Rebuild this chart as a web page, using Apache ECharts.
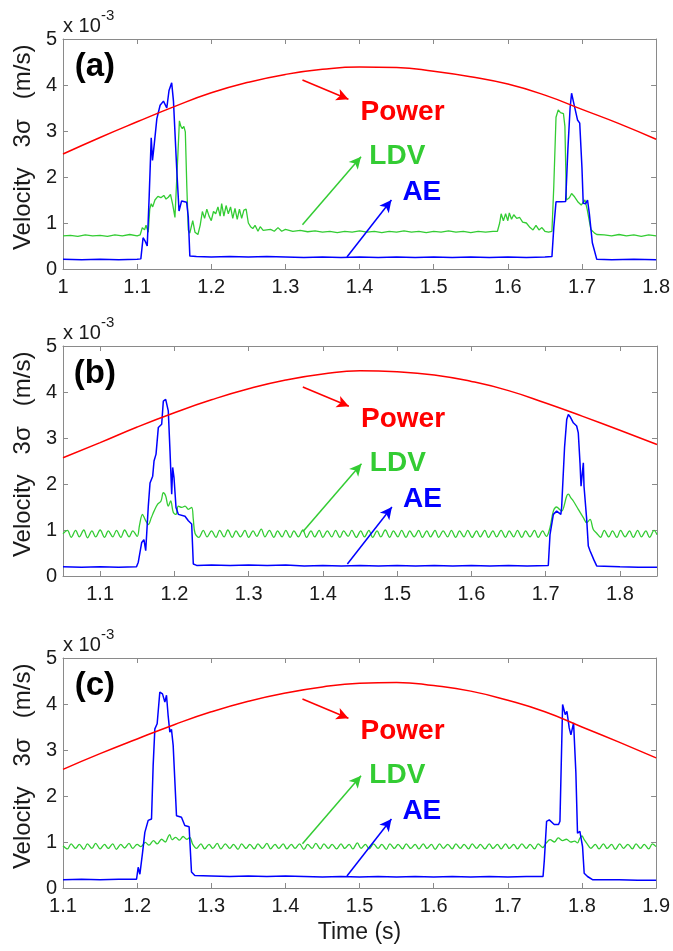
<!DOCTYPE html>
<html><head><meta charset="utf-8">
<script src="https://cdn.jsdelivr.net/npm/echarts@6/dist/echarts.min.js"></script>
<style>html,body{margin:0;padding:0;background:#fff;}#c{width:673px;height:951px;}</style>
</head><body><div id="c"></div>
<script>
// ---------------- DATA ----------------
const panelTags = ['(a)', '(b)', '(c)'];
const xRanges = [[1.0, 1.8], [1.05, 1.85], [1.1, 1.9]];
const yTicks = [0, 1, 2, 3, 4, 5];

const powerA = [[1.00,2.50],[1.05,2.86],[1.10,3.20],[1.15,3.53],[1.20,3.83],[1.25,4.06],[1.30,4.23],[1.35,4.34],[1.40,4.39],[1.45,4.38],[1.50,4.30],[1.55,4.18],[1.60,4.02],[1.65,3.78],[1.70,3.47],[1.75,3.16],[1.80,2.82]];
const powerB = [[1.05,2.57],[1.10,2.90],[1.15,3.24],[1.20,3.55],[1.25,3.83],[1.30,4.07],[1.35,4.26],[1.40,4.39],[1.45,4.46],[1.50,4.44],[1.55,4.37],[1.60,4.23],[1.65,4.03],[1.70,3.76],[1.75,3.47],[1.80,3.17],[1.85,2.86]];
const powerC = [[1.10,2.58],[1.15,2.92],[1.20,3.24],[1.25,3.55],[1.30,3.83],[1.35,4.06],[1.40,4.24],[1.45,4.37],[1.50,4.45],[1.55,4.47],[1.60,4.40],[1.65,4.28],[1.70,4.08],[1.75,3.83],[1.80,3.50],[1.85,3.17],[1.90,2.83]];

const aeA = [[1.00,0.21],[1.025,0.20],[1.05,0.21],[1.075,0.20],[1.10,0.21],[1.105,0.22],[1.108,0.68],[1.111,0.60],[1.1136,0.50],[1.1163,1.60],[1.119,2.85],[1.1207,2.36],[1.123,2.70],[1.1266,3.27],[1.131,3.56],[1.1355,3.65],[1.14,3.50],[1.143,3.88],[1.1466,4.05],[1.149,3.65],[1.1533,2.20],[1.1565,1.26],[1.16,1.48],[1.1668,1.45],[1.169,1.13],[1.1711,0.28],[1.18,0.27],[1.20,0.26],[1.225,0.27],[1.25,0.26],[1.275,0.27],[1.30,0.26],[1.325,0.25],[1.35,0.26],[1.375,0.25],[1.40,0.26],[1.425,0.25],[1.45,0.26],[1.475,0.25],[1.50,0.26],[1.525,0.25],[1.55,0.26],[1.575,0.25],[1.60,0.26],[1.625,0.25],[1.65,0.26],[1.6595,0.27],[1.662,0.90],[1.665,1.46],[1.672,1.46],[1.678,1.47],[1.681,2.60],[1.684,3.50],[1.686,3.82],[1.689,3.60],[1.694,3.24],[1.697,3.17],[1.700,2.20],[1.7017,1.43],[1.705,1.42],[1.7075,1.50],[1.710,1.20],[1.714,0.57],[1.720,0.21],[1.74,0.20],[1.77,0.21],[1.80,0.20]];
const ldvA = [[1.00,0.72],[1.01,0.73],[1.02,0.71],[1.03,0.74],[1.04,0.72],[1.05,0.73],[1.06,0.71],[1.07,0.74],[1.08,0.72],[1.09,0.75],[1.10,0.72],[1.104,0.74],[1.107,0.90],[1.110,0.85],[1.112,0.95],[1.115,0.80],[1.117,1.30],[1.119,1.42],[1.121,1.35],[1.124,1.50],[1.128,1.58],[1.132,1.55],[1.136,1.60],[1.139,1.52],[1.142,1.56],[1.145,1.62],[1.148,1.40],[1.151,1.12],[1.153,1.10],[1.155,2.50],[1.157,3.22],[1.159,3.10],[1.161,3.05],[1.163,3.10],[1.165,2.98],[1.167,1.80],[1.169,0.85],[1.171,0.78],[1.175,1.05],[1.178,0.80],[1.182,0.75],[1.185,0.95],[1.188,1.25],[1.191,1.10],[1.194,1.30],[1.197,1.15],[1.200,1.05],[1.203,1.25],[1.206,1.20],[1.209,1.35],[1.212,1.15],[1.214,1.42],[1.217,1.15],[1.220,1.38],[1.223,1.20],[1.226,1.35],[1.229,1.10],[1.232,1.32],[1.235,1.08],[1.238,1.30],[1.241,1.10],[1.244,1.28],[1.247,1.30],[1.250,1.00],[1.253,0.92],[1.256,0.88],[1.259,0.95],[1.263,0.82],[1.266,0.92],[1.270,0.84],[1.280,0.86],[1.285,0.82],[1.290,0.90],[1.295,0.82],[1.30,0.86],[1.31,0.82],[1.32,0.84],[1.33,0.81],[1.34,0.83],[1.35,0.80],[1.36,0.82],[1.37,0.79],[1.38,0.82],[1.39,0.80],[1.40,0.83],[1.41,0.80],[1.42,0.82],[1.43,0.79],[1.44,0.82],[1.45,0.80],[1.46,0.83],[1.47,0.80],[1.48,0.82],[1.49,0.79],[1.50,0.82],[1.51,0.80],[1.52,0.83],[1.53,0.80],[1.54,0.82],[1.55,0.79],[1.56,0.82],[1.57,0.80],[1.58,0.82],[1.586,0.82],[1.589,1.00],[1.591,1.20],[1.594,1.05],[1.597,1.20],[1.600,1.05],[1.602,1.22],[1.605,1.08],[1.608,1.18],[1.612,1.10],[1.616,1.12],[1.620,1.02],[1.625,1.00],[1.630,0.90],[1.634,0.85],[1.638,0.95],[1.642,0.85],[1.646,0.90],[1.650,0.82],[1.655,0.80],[1.6595,0.82],[1.662,1.80],[1.665,3.30],[1.668,3.46],[1.671,3.40],[1.673,3.36],[1.675,3.38],[1.677,3.10],[1.679,1.50],[1.683,1.55],[1.686,1.64],[1.690,1.57],[1.695,1.45],[1.699,1.39],[1.704,1.50],[1.707,1.30],[1.712,0.86],[1.717,0.78],[1.72,0.75],[1.73,0.74],[1.74,0.72],[1.75,0.75],[1.76,0.72],[1.77,0.74],[1.78,0.71],[1.79,0.74],[1.80,0.72]];

const aeB = [[1.05,0.20],[1.075,0.19],[1.10,0.20],[1.125,0.19],[1.149,0.20],[1.1514,0.30],[1.156,0.73],[1.159,0.79],[1.1614,0.55],[1.1649,1.52],[1.1672,2.02],[1.1708,2.17],[1.1726,2.50],[1.1753,2.65],[1.1784,3.23],[1.1829,3.30],[1.1851,3.80],[1.1883,3.84],[1.1918,3.59],[1.1941,2.72],[1.1964,1.78],[1.1977,2.36],[1.1995,2.14],[1.2022,1.49],[1.2053,1.34],[1.2143,1.30],[1.2188,1.20],[1.2233,1.13],[1.2255,0.26],[1.23,0.23],[1.25,0.24],[1.275,0.23],[1.30,0.24],[1.325,0.23],[1.35,0.24],[1.375,0.22],[1.40,0.23],[1.425,0.22],[1.45,0.23],[1.475,0.22],[1.50,0.23],[1.525,0.22],[1.55,0.23],[1.575,0.22],[1.60,0.23],[1.625,0.22],[1.65,0.23],[1.675,0.22],[1.7036,0.23],[1.7059,0.90],[1.7104,1.34],[1.7149,1.41],[1.7205,1.34],[1.7216,1.50],[1.7255,2.80],[1.7284,3.40],[1.7306,3.51],[1.7335,3.45],[1.7373,3.33],[1.7418,3.26],[1.744,3.11],[1.7463,2.46],[1.7477,1.95],[1.7508,2.46],[1.7517,1.95],[1.7553,1.23],[1.7575,0.65],[1.7598,0.55],[1.762,0.51],[1.765,0.35],[1.7688,0.22],[1.80,0.20],[1.825,0.19],[1.85,0.19]];
const ldvB = [[1.050,0.92],[1.056,0.99],[1.061,0.84],[1.067,0.99],[1.072,0.85],[1.078,1.00],[1.083,0.83],[1.089,0.98],[1.094,0.85],[1.100,1.00],[1.106,0.84],[1.111,0.98],[1.117,0.85],[1.122,0.99],[1.128,0.84],[1.133,1.00],[1.139,0.85],[1.144,0.98],[1.150,0.86],
[1.153,1.10],[1.157,1.34],[1.1605,1.23],[1.165,1.12],[1.169,1.27],[1.1726,1.41],[1.1775,1.56],[1.182,1.63],[1.1851,1.81],[1.1883,1.74],[1.1918,1.52],[1.195,1.63],[1.1986,1.38],[1.2022,1.34],[1.2053,1.52],[1.210,1.49],[1.2143,1.52],[1.2188,1.45],[1.2233,1.49],[1.2255,1.23],[1.2278,0.93],
[1.233,0.84],[1.239,0.99],[1.244,0.85],[1.250,0.98],[1.256,0.84],[1.261,0.99],[1.267,0.85],[1.272,1.00],[1.278,0.84],[1.283,0.98],[1.289,0.85],[1.295,0.99],[1.300,0.84],[1.306,0.98],[1.311,0.86],[1.317,1.02],[1.322,0.85],[1.328,0.99],[1.334,0.84],[1.339,0.98],[1.345,0.85],[1.350,0.99],[1.356,0.84],[1.361,0.98],[1.367,0.85],[1.373,1.00],[1.378,0.84],[1.384,0.98],[1.389,0.85],[1.395,0.99],[1.400,0.84],[1.406,0.98],[1.412,0.85],[1.417,0.99],[1.423,0.84],[1.428,0.98],[1.434,0.86],[1.439,0.99],[1.445,0.84],[1.451,0.98],[1.456,0.85],[1.462,0.99],[1.467,0.84],[1.473,0.98],[1.478,0.85],[1.484,1.00],[1.490,0.84],[1.495,0.98],[1.501,0.85],[1.506,0.99],[1.512,0.84],[1.517,0.98],[1.523,0.85],[1.529,0.99],[1.534,0.84],[1.540,0.98],[1.545,0.85],[1.551,0.99],[1.556,0.84],[1.562,0.98],[1.568,0.85],[1.573,0.99],[1.579,0.84],[1.584,0.98],[1.590,0.85],[1.595,0.99],[1.601,0.84],[1.607,0.98],[1.612,0.85],[1.618,0.99],[1.623,0.84],[1.629,0.98],[1.634,0.85],[1.640,0.99],[1.646,0.84],[1.651,0.98],[1.657,0.85],[1.662,0.99],[1.668,0.84],[1.673,0.98],[1.679,0.85],[1.685,0.99],[1.690,0.84],[1.696,0.98],[1.701,0.86],
[1.7059,1.05],[1.7104,1.41],[1.7149,1.50],[1.7185,1.45],[1.7216,1.41],[1.7284,1.74],[1.7306,1.78],[1.734,1.70],[1.7373,1.63],[1.744,1.45],[1.7508,1.27],[1.7553,1.16],[1.7598,1.23],[1.7642,1.01],[1.7688,0.93],
[1.774,0.84],[1.779,0.99],[1.785,0.85],[1.790,0.98],[1.796,0.84],[1.801,0.99],[1.807,0.85],[1.813,0.98],[1.818,0.84],[1.824,0.99],[1.829,0.85],[1.835,0.98],[1.840,0.84],[1.846,0.99],[1.850,0.90]];

const aeC = [[1.10,0.18],[1.125,0.19],[1.15,0.18],[1.175,0.19],[1.1992,0.19],[1.2014,0.45],[1.2037,0.30],[1.2073,0.77],[1.2104,1.21],[1.2149,1.47],[1.2194,1.50],[1.2216,2.66],[1.2239,3.46],[1.227,3.57],[1.2306,4.26],[1.2342,4.22],[1.2374,4.04],[1.2396,4.19],[1.2418,3.75],[1.2441,3.39],[1.2463,3.45],[1.2486,3.10],[1.2531,1.57],[1.2598,1.54],[1.2643,1.36],[1.2701,1.33],[1.2733,0.35],[1.2778,0.27],[1.30,0.26],[1.325,0.25],[1.35,0.26],[1.375,0.25],[1.40,0.26],[1.425,0.25],[1.45,0.24],[1.475,0.25],[1.50,0.24],[1.525,0.25],[1.55,0.24],[1.575,0.25],[1.60,0.24],[1.625,0.25],[1.65,0.24],[1.675,0.25],[1.70,0.24],[1.725,0.25],[1.7475,0.25],[1.7492,0.60],[1.7523,1.45],[1.7559,1.48],[1.7626,1.38],[1.7684,1.38],[1.7703,1.45],[1.7739,3.99],[1.7752,4.02],[1.7774,3.77],[1.7797,3.84],[1.7828,3.48],[1.7851,3.33],[1.7887,3.59],[1.7905,3.62],[1.7918,2.50],[1.794,1.19],[1.7972,1.23],[1.8008,0.90],[1.803,0.32],[1.8075,0.25],[1.8098,0.28],[1.8142,0.18],[1.85,0.18],[1.875,0.17],[1.90,0.17]];
const ldvC = [[1.100,0.92],[1.106,0.85],[1.111,0.96],[1.117,0.86],[1.122,0.95],[1.128,0.84],[1.133,0.96],[1.139,0.86],[1.144,0.97],[1.150,0.85],[1.156,0.95],[1.161,0.86],[1.167,0.96],[1.172,0.84],[1.178,0.95],[1.183,0.87],[1.189,0.97],[1.194,0.86],[1.200,0.95],
[1.205,0.90],[1.211,0.99],[1.216,0.93],[1.222,1.03],[1.227,0.96],[1.233,1.06],[1.238,1.00],[1.242,1.12],[1.244,1.16],[1.247,1.05],[1.252,1.10],[1.257,1.04],[1.262,1.12],[1.267,1.06],[1.271,1.10],[1.275,0.95],
[1.280,0.86],[1.286,0.96],[1.291,0.85],[1.297,0.95],[1.302,0.86],[1.308,0.97],[1.313,0.85],[1.319,0.96],[1.325,0.86],[1.330,0.95],[1.336,0.84],[1.341,0.96],[1.347,0.86],[1.352,0.95],[1.358,0.85],[1.363,0.96],[1.369,0.86],[1.375,0.97],[1.380,0.85],[1.386,0.95],[1.391,0.86],[1.397,0.96],[1.402,0.85],[1.408,0.95],[1.413,0.86],[1.419,0.96],[1.425,0.84],[1.430,0.95],[1.436,0.86],[1.441,0.97],[1.447,0.85],[1.452,0.96],[1.458,0.86],[1.463,0.95],[1.469,0.85],[1.475,0.96],[1.480,0.86],[1.486,0.95],[1.491,0.85],[1.497,0.98],[1.502,0.86],[1.508,0.95],[1.513,0.85],[1.519,0.96],[1.525,0.86],[1.530,0.95],[1.536,0.84],[1.541,0.96],[1.547,0.86],[1.552,0.95],[1.558,0.85],[1.563,0.96],[1.569,0.86],[1.575,0.95],[1.580,0.85],[1.586,0.96],[1.591,0.86],[1.597,0.95],[1.602,0.84],[1.608,0.96],[1.613,0.86],[1.619,0.95],[1.625,0.85],[1.630,0.96],[1.636,0.86],[1.641,0.95],[1.647,0.85],[1.652,0.96],[1.658,0.86],[1.663,0.95],[1.669,0.85],[1.675,0.96],[1.680,0.86],[1.686,0.95],[1.691,0.85],[1.697,0.96],[1.702,0.86],[1.708,0.95],[1.713,0.85],[1.719,0.96],[1.725,0.86],[1.730,0.95],[1.736,0.85],[1.741,0.96],[1.747,0.88],
[1.752,0.98],[1.757,1.05],[1.763,1.00],[1.768,1.09],[1.774,1.03],[1.779,1.06],[1.785,1.00],[1.790,1.02],[1.794,0.98],[1.797,1.08],[1.800,1.13],[1.803,1.05],[1.807,0.96],
[1.812,0.86],[1.818,0.95],[1.823,0.85],[1.829,0.96],[1.834,0.86],[1.840,0.95],[1.845,0.84],[1.851,0.96],[1.856,0.86],[1.862,0.95],[1.868,0.85],[1.873,0.96],[1.879,0.86],[1.884,0.95],[1.890,0.85],[1.895,0.96],[1.900,0.90]];

// ---------------- LAYOUT / STYLE ----------------
const FONT = '"Liberation Sans", Arial, sans-serif';
const RED = '#ff0000', GREEN = '#33cc33', BLUE = '#0000ff';
const AXC = '#8a8a8a', TXT = '#1a1a1a';
const gridTops = [39, 346, 658];
const GH = 230;
const ldvSmooth = [false, 0.35, 0.35];
const panelsData = [
  {power: powerA, ldv: ldvA, ae: aeA},
  {power: powerB, ldv: ldvB, ae: aeB},
  {power: powerC, ldv: ldvC, ae: aeC}
];
// annotation anchors: offset (s) from axis min, value
const ann = {
  redArrow: [[0.323, 4.11], [0.385, 3.69]],
  greenArrow: [[0.323, 0.96], [0.402, 2.44]],
  blueArrow: [[0.383, 0.26], [0.443, 1.50]],
  power: [0.458, 3.40],
  ldv: [0.451, 2.44],
  ae: [0.484, 1.66],
  tag: [0.043, 4.39]
};

const grids = [], xAxes = [], yAxes = [], series = [], graphics = [];
panelsData.forEach((p, i) => {
  const [xmin, xmax] = xRanges[i];
  grids.push({left: 63, width: 594, top: gridTops[i], height: GH});
  const axLine = {show: true, onZero: false, lineStyle: {color: AXC, width: 1}};
  const axTick = {show: true, inside: true, length: 5, lineStyle: {color: AXC, width: 1}};
  xAxes.push({
    gridIndex: i, type: 'value', min: xmin, max: xmax, splitNumber: 8,
    axisLine: axLine, axisTick: axTick, splitLine: {show: false},
    axisLabel: {fontFamily: FONT, fontSize: 20, color: TXT, margin: 8,
      showMinLabel: i !== 1, showMaxLabel: i !== 1},
    name: i === 2 ? 'Time (s)' : '', nameLocation: 'middle', nameGap: 33,
    nameTextStyle: {fontFamily: FONT, fontSize: 23, color: TXT}
  });
  xAxes.push({
    gridIndex: i, type: 'value', min: xmin, max: xmax, splitNumber: 8, position: 'top',
    axisLine: axLine, axisTick: axTick, splitLine: {show: false}, axisLabel: {show: false}
  });
  yAxes.push({
    gridIndex: i, type: 'value', min: yTicks[0], max: yTicks[yTicks.length - 1], interval: 1,
    axisLine: axLine, axisTick: axTick, splitLine: {show: false},
    axisLabel: {fontFamily: FONT, fontSize: 20, color: TXT, margin: 6},
    name: '  Velocity   3\u03c3   (m/s)', nameLocation: 'middle', nameGap: 23,
    nameTextStyle: {fontFamily: FONT, fontSize: 24, color: TXT}
  });
  yAxes.push({
    gridIndex: i, type: 'value', min: yTicks[0], max: yTicks[yTicks.length - 1], interval: 1, position: 'right',
    axisLine: axLine, axisTick: axTick, splitLine: {show: false}, axisLabel: {show: false}
  });
  const xi = 2 * i, yi = 2 * i;
  const at = (o) => [xmin + o[0], o[1]];
  const arrow = (seg, color) => ({
    silent: true, animation: false, symbol: ['none', 'arrow'], symbolSize: [9, 12],
    label: {show: false}, lineStyle: {color: color, width: 1.5, type: 'solid'},
    emphasis: {disabled: true},
    data: [[{coord: at(seg[0])}, {coord: at(seg[1])}]]
  });
  const lbl = (pos, text, color, size) => ({
    coord: at(pos), symbol: 'circle', symbolSize: 1, itemStyle: {color: 'rgba(0,0,0,0)'},
    label: {show: true, position: 'inside', formatter: text, color: color,
      fontFamily: FONT, fontSize: size, fontWeight: 'bold'}
  });
  series.push({
    type: 'line', xAxisIndex: xi, yAxisIndex: yi, data: p.ldv, showSymbol: false,
    smooth: ldvSmooth[i],
    lineStyle: {color: GREEN, width: 1.3}, itemStyle: {color: GREEN}, z: 2,
    markLine: arrow(ann.greenArrow, GREEN),
    markPoint: {silent: true, animation: false, data: [lbl(ann.ldv, 'LDV', GREEN, 28)]}
  });
  series.push({
    type: 'line', xAxisIndex: xi, yAxisIndex: yi, data: p.ae, showSymbol: false,
    lineStyle: {color: BLUE, width: 1.5}, itemStyle: {color: BLUE}, z: 3,
    markLine: arrow(ann.blueArrow, BLUE),
    markPoint: {silent: true, animation: false, data: [lbl(ann.ae, 'AE', BLUE, 28)]}
  });
  series.push({
    type: 'line', xAxisIndex: xi, yAxisIndex: yi, data: p.power, showSymbol: false, smooth: true,
    lineStyle: {color: RED, width: 1.5}, itemStyle: {color: RED}, z: 4,
    markLine: arrow(ann.redArrow, RED),
    markPoint: {silent: true, animation: false, data: [
      lbl(ann.power, 'Power', RED, 28),
      lbl(ann.tag, panelTags[i], '#000', 33)
    ]}
  });
  const off = gridTops[i] - gridTops[0];
  graphics.push({type: 'text', left: 63, top: 16 + off,
    style: {text: 'x 10', font: '20px ' + FONT, fill: TXT}});
  graphics.push({type: 'text', left: 101, top: 8 + off,
    style: {text: '-3', font: '15px ' + FONT, fill: TXT}});
});

const chart = echarts.init(document.getElementById('c'), null, {renderer: 'canvas'});
chart.setOption({
  animation: false,
  backgroundColor: '#ffffff',
  grid: grids, xAxis: xAxes, yAxis: yAxes, series: series, graphic: graphics
});
</script></body></html>
